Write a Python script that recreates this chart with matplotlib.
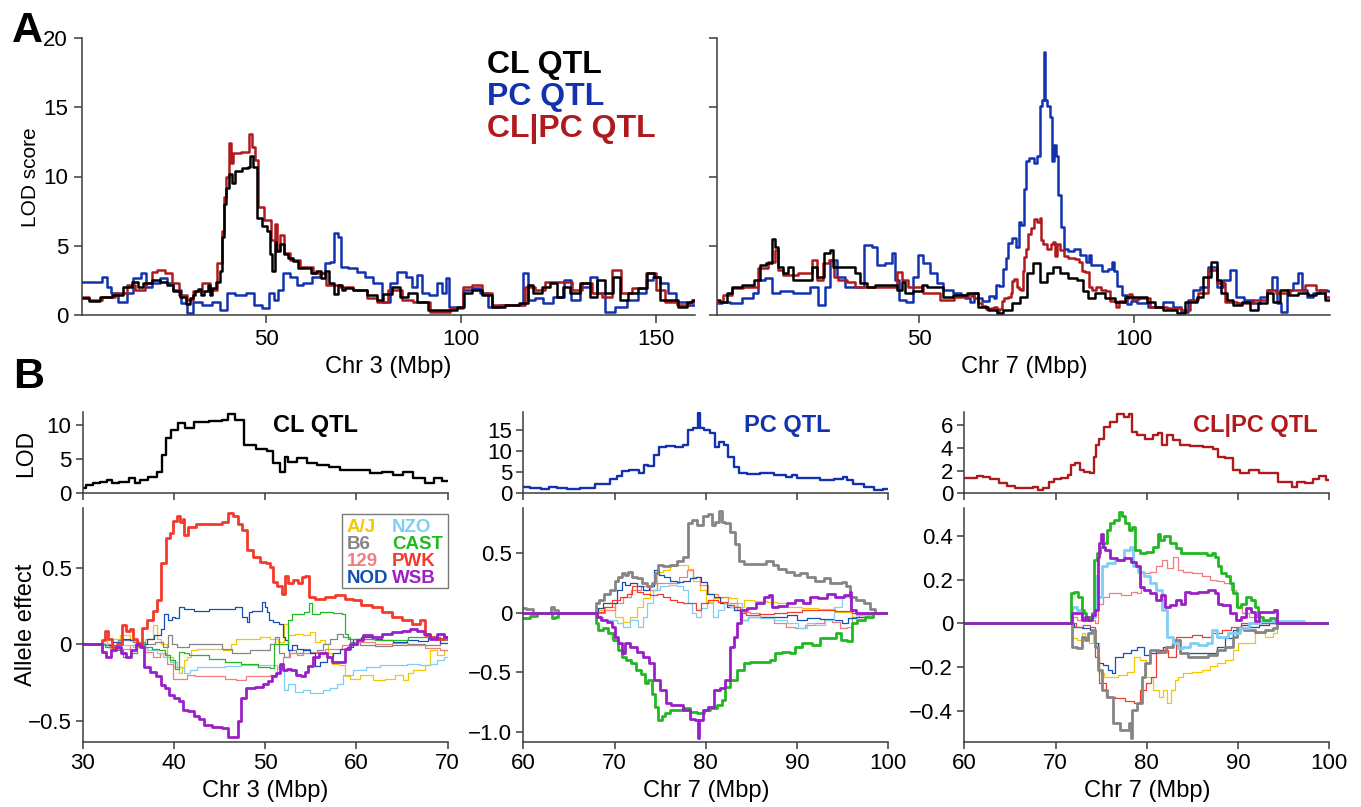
import matplotlib
matplotlib.use("Agg")
import matplotlib.pyplot as plt
from matplotlib.patches import Rectangle

plt.rcParams['font.family'] = ['Liberation Sans', 'DejaVu Sans']

# ---------------- DATA ----------------
# Panel A, chromosome 3 LOD profiles: (Mbp, LOD)
chr3_cl = [(2.8,1.2),(6.6,1.0),(8.3,1.3),(12.5,1.45),(14.3,2.05),(16.8,2.4),(17.7,2.05),(19.4,2.3),(21.9,2.5),
           (23.7,2.4),(25.4,2.2),(27.1,1.7),(28.8,1.3),(30.0,0.8),(30.8,1.2),(31.5,1.45),(32.3,1.7),(33.0,1.9),
           (33.5,1.45),(34.5,1.7),(35.6,2.17),(35.9,1.45),(36.6,1.94),(37.7,2.4),(38.5,3.15),(38.8,5.6),(39.4,8.0),
           (39.9,9.2),(41.0,10.2),(41.4,9.5),(42.9,10.4),(44.7,10.6),(45.8,10.7),(46.1,11.5),(47.2,10.7),(48.2,7.0),
           (49.8,6.4),(50.5,6.1),(51.3,4.4),(52.0,3.15),(52.4,5.3),(52.7,4.6),(54.2,5.1),(54.9,4.4),(56.4,4.1),
           (57.5,3.9),(58.9,3.4),(60.8,3.4),(62.2,3.0),(63.3,3.15),(64.8,2.66),(65.5,3.15),(67.0,2.3),(68.1,1.55),
           (68.8,2.17),(70.0,1.8),(70.7,1.93),(74.1,1.8),(77.5,1.45),(79.2,1.08),(81.0,1.5),(83.5,2.05),(85.2,1.3),
           (87.7,1.57),(89.5,0.96),(93.7,0.36),(98.0,0.36),(100.1,0.6),(101.4,1.57),(104.0,1.8),(106.6,1.45),
           (109.1,0.6),(113.4,0.72),(116.4,0.84),(117.7,2.2),(119.4,1.57),(121.9,2.05),(123.6,2.3),(125.4,1.3),
           (127.1,2.05),(128.8,1.57),(132.2,2.3),(133.9,1.3),(135.6,2.5),(138.2,1.57),(139.9,2.77),(141.6,1.08),
           (144.2,1.57),(146.7,1.93),(148.9,3.0),(150.1,2.77),(151.9,1.08),(154.4,1.08),(157.0,0.6),(158.7,0.96),
           (160.0,1.08)]
chr3_pc = [(2.8,2.35),(7.4,2.4),(8.7,2.77),(9.5,2.05),(10.8,1.57),(13.4,0.96),(15.1,1.57),(16.8,2.65),(19.0,3.0),
           (19.6,2.05),(21.9,2.3),(23.7,2.65),(25.4,2.3),(27.1,1.8),(29.2,0.84),(30.5,0.12),(32.2,0.96),(34.8,0.72),
           (37.3,0.96),(39.0,0.36),(40.8,1.57),(43.3,1.45),(46.3,1.57),(47.6,0.72),(50.2,0.48),(51.4,1.57),(52.7,1.08),
           (53.6,1.8),(55.3,3.0),(57.0,2.77),(58.7,2.2),(60.4,2.3),(63.0,2.77),(64.7,3.0),(65.5,3.73),(67.2,3.85),
           (67.9,5.9),(68.8,5.66),(69.8,3.5),(72.4,3.37),(74.1,3.13),(76.6,2.77),(78.4,2.3),(80.9,0.96),(82.6,2.3),
           (84.8,3.13),(86.9,2.77),(87.7,2.05),(89.5,2.9),(90.7,1.57),(92.9,1.45),(94.6,2.3),(95.4,1.57),(96.7,2.65),
           (97.1,0.6),(99.7,0.6),(101.4,1.8),(104.0,1.93),(105.7,1.57),(108.3,0.6),(111.7,0.72),(115.1,0.72),
           (116.8,3.0),(117.7,1.08),(120.2,1.2),(121.9,0.84),(125.4,1.3),(127.5,2.5),(128.8,1.08),(132.2,2.05),
           (133.9,2.77),(135.6,1.57),(138.2,0.24),(140.7,0.6),(144.2,1.08),(146.7,1.57),(148.4,2.5),(150.1,2.77),
           (151.9,2.3),(154.4,1.57),(156.1,0.96),(160.0,0.72)]
chr3_clpc = [(2.8,1.3),(6.6,1.08),(9.1,1.3),(13.4,1.6),(15.1,2.2),(17.7,1.8),(20.2,2.3),(21.5,3.13),(22.8,3.25),
             (25.4,3.0),(26.6,2.3),(28.8,1.45),(30.5,1.08),(32.2,1.7),(34.8,2.3),(36.5,1.8),(38.2,3.73),(39.0,6.1),
             (39.6,8.5),(40.1,10.0),(40.8,12.4),(41.2,10.95),(42.0,11.67),(45.4,11.8),(46.1,13.1),(46.7,12.1),
             (47.6,11.2),(48.3,7.8),(50.6,6.86),(51.9,5.4),(52.5,6.6),(53.1,4.7),(54.0,5.8),(55.3,4.45),(57.0,3.97),
             (60.4,3.5),(63.8,3.0),(67.2,2.2),(70.7,2.05),(74.1,1.8),(77.5,1.2),(79.2,0.96),(83.5,1.8),(86.0,1.08),
             (89.5,0.96),(94.6,0.24),(99.7,0.48),(101.4,2.05),(104.0,2.2),(106.6,1.57),(109.1,0.72),(115.1,0.72),
             (117.7,2.05),(120.2,1.8),(122.8,2.4),(127.1,2.4),(129.6,1.8),(132.2,2.3),(134.8,1.57),(137.3,1.3),
             (140.3,3.25),(142.0,1.57),(145.9,1.93),(148.9,3.0),(151.0,1.8),(153.6,0.96),(157.0,0.72),(160.0,0.96)]

# Panel A, chromosome 7 LOD profiles: (Mbp, LOD)
chr7_cl = [(3.0,1.08),(4.5,0.96),(6.0,1.57),(6.8,2.05),(10.7,2.2),(12.6,2.5),(13.4,3.6),(15.3,3.73),(16.3,5.5),
           (16.9,4.9),(17.7,3.5),(19.2,3.0),(20.0,3.5),(21.5,2.5),(24.6,2.5),(25.8,3.5),(26.9,2.77),(28.9,4.45),
           (29.7,4.7),(30.4,3.5),(34.7,3.5),(35.5,3.0),(37.0,2.3),(38.6,2.05),(40.9,2.2),(44.0,2.2),(45.6,1.8),
           (46.3,2.4),(47.1,1.57),(50.2,1.7),(51.0,2.2),(52.5,2.05),(54.9,2.05),(56.4,1.3),(59.5,1.45),(62.6,1.57),
           (64.9,0.6),(67.3,0.36),(68.8,0.12),(70.4,0.36),(72.7,0.84),(74.2,1.3),(75.8,3.0),(77.4,3.73),(78.9,2.4),
           (80.5,3.0),(82.0,3.5),(83.6,3.0),(85.9,2.65),(87.8,2.5),(88.6,1.7),(89.8,1.2),(92.1,1.57),(94.4,1.2),
           (96.7,0.96),(99.1,1.3),(101.4,1.3),(104.5,0.96),(105.3,0.6),(108.4,0.36),(111.5,0.12),(112.2,0.96),
           (113.8,0.96),(115.3,1.3),(116.9,2.77),(118.8,3.85),(119.6,2.5),(120.8,1.57),(122.3,1.08),(123.9,0.72),
           (126.2,0.96),(127.7,0.36),(130.1,0.84),(131.6,1.57),(133.2,0.96),(134.7,1.8),(137.0,1.45),(139.4,1.57),
           (141.7,1.45),(143.2,1.57),(145.6,1.08)]
chr7_pc = [(3.0,0.84),(5.2,0.96),(6.8,0.84),(10.7,1.2),(12.2,1.57),(13.0,2.5),(15.3,2.65),(16.1,1.57),(19.2,1.7),
           (22.3,1.57),(23.8,1.57),(25.4,2.05),(27.7,0.72),(28.5,2.05),(30.1,3.97),(31.6,2.77),(33.9,2.05),(36.3,2.05),
           (38.2,5.06),(39.7,4.9),(40.9,3.6),(43.2,3.73),(44.0,4.45),(44.8,2.5),(45.9,1.08),(47.9,0.96),(49.4,2.77),
           (50.2,4.33),(51.8,3.73),(53.3,3.0),(54.9,2.3),(56.4,1.8),(59.5,1.57),(60.0,1.43),(61.5,1.2),(62.4,0.95),
           (63.3,1.6),(64.0,1.2),(65.5,1.0),(67.0,1.35),(67.7,1.2),(68.0,2.2),(69.1,2.1),(69.9,3.3),(70.6,4.1),
           (71.0,5.2),(72.1,5.55),(73.2,4.9),(73.3,6.7),(74.1,6.5),(74.6,9.1),(75.2,11.1),(76.1,11.3),(77.2,10.95),
           (77.9,11.5),(78.3,15.1),(79.0,15.5),(79.2,19.0),(79.5,15.5),(80.1,15.1),(80.8,14.3),(81.2,11.1),(81.8,12.3),
           (82.1,11.5),(82.7,8.7),(83.4,6.35),(83.9,4.76),(85.2,4.6),(86.7,4.76),(88.2,4.36),(89.3,3.8),(89.6,4.36),
           (90.3,3.6),(91.8,3.6),(93.3,3.17),(94.7,3.3),(95.3,3.8),(95.6,3.17),(96.6,2.1),(98.0,1.43),(98.8,0.8),
           (100.0,1.03),(101.4,0.84),(105.3,0.6),(108.4,0.96),(109.9,0.6),(112.2,0.24),(113.0,1.08),(114.6,1.8),
           (116.1,2.05),(118.4,3.5),(120.0,2.05),(121.5,2.5),(123.1,3.25),(124.3,1.3),(127.0,1.08),(128.5,0.84),
           (130.1,1.3),(131.6,1.8),(132.8,2.77),(133.9,0.84),(134.7,0.24),(136.3,1.8),(137.8,2.3),(138.6,3.0),
           (139.8,1.8),(140.9,1.3),(142.5,1.57),(144.0,1.8),(145.6,1.7)]
chr7_clpc = [(3.0,0.96),(6.0,1.45),(6.8,1.93),(11.5,2.05),(13.4,3.37),(16.1,3.85),(16.7,4.7),(17.7,3.25),(19.2,2.9),
             (24.6,3.0),(25.4,3.97),(26.9,2.5),(28.5,3.73),(29.7,3.97),(30.8,2.77),(31.6,2.5),(34.7,2.4),(35.5,2.05),
             (44.0,2.05),(45.6,3.13),(46.3,2.5),(48.7,2.05),(53.3,1.57),(56.4,1.08),(60.0,1.31),(61.0,1.31),
             (61.7,1.52),(62.4,1.4),(63.2,1.22),(64.3,0.87),(65.0,0.64),(66.1,0.43),(67.2,0.49),(67.9,0.58),
             (68.3,0.29),(69.0,0.43),(69.6,1.02),(70.1,1.22),(71.2,1.31),(71.6,1.6),(71.8,2.48),(72.5,2.63),
             (72.9,2.04),(73.4,1.9),(74.1,1.8),(74.3,3.2),(74.5,4.2),(75.1,4.8),(75.6,5.84),(76.3,6.28),(77.1,6.95),
             (78.0,6.72),(78.2,7.0),(78.5,5.4),(79.3,5.1),(80.3,4.8),(81.1,5.1),(81.4,5.26),(82.0,4.24),(82.4,5.1),
             (83.3,4.67),(84.0,4.24),(85.5,4.15),(86.9,4.03),(87.7,3.85),(88.0,3.2),(89.1,3.07),(89.8,2.04),
             (90.6,1.8),(91.7,2.04),(92.8,1.8),(94.2,1.75),(94.6,1.02),(95.7,1.02),(96.1,0.58),(96.8,1.02),
             (97.9,0.93),(98.6,1.22),(99.2,1.52),(100.0,1.17),(102.2,1.2),(105.3,0.6),(109.9,0.48),(112.2,0.36),
             (113.8,1.08),(116.1,1.57),(118.4,3.25),(120.0,2.3),(122.3,0.96),(125.4,0.84),(130.1,1.08),(131.6,1.8),
             (134.7,1.57),(137.8,1.8),(141.7,2.2),(143.2,1.8),(145.6,1.3)]

# Panel B, allele effects (Mbp, effect) -- CL QTL on Chr 3
b1_aj = [(30,0),(31.9,0),(33.4,0.037),(34.8,0.06),(35.6,0.026),(36.3,0.004),(37.4,0.037),(37.9,0.125),(38.3,0.037),
         (38.8,0.004),(39.6,-0.083),(40.3,-0.15),(40.7,-0.19),(41.0,-0.15),(41.2,-0.105),(41.6,-0.083),(42.1,-0.04),
         (42.9,-0.03),(44.7,-0.03),(46.1,-0.035),(46.5,0.004),(47.2,0.037),(48.7,0.037),(50.2,0.048),(50.9,0.037),
         (51.8,0.015),(52.4,0.136),(52.7,0.06),(53.8,0.07),(54.5,0.06),(55.3,0.08),(55.6,0.015),(56.4,0.026),
         (56.7,0.004),(57.1,-0.06),(57.5,-0.127),(58.6,-0.138),(58.9,-0.21),(59.7,-0.225),(61.1,-0.20),(62.6,-0.236),
         (63.7,-0.225),(64.8,-0.20),(65.5,-0.236),(65.9,-0.19),(66.6,-0.17),(67.3,-0.17),(67.7,-0.138),(68.4,-0.04),
         (69.2,-0.07),(70.0,-0.04)]
b1_b6 = [(30,0),(31.9,0),(33.0,-0.007),(34.8,0.026),(36.3,0.015),(37.4,0.004),(38.5,0.015),(39.2,-0.018),(39.6,0.06),
         (39.9,0.004),(40.8,-0.018),(41.4,-0.018),(41.9,0.004),(42.9,0.0),(44.7,0.004),(45.8,-0.03),(46.9,-0.06),
         (48.0,-0.06),(48.7,-0.04),(50.2,-0.04),(50.9,0.0),(51.3,0.048),(51.8,-0.06),(52.4,-0.083),(52.9,-0.04),
         (53.8,-0.06),(54.5,-0.03),(55.3,-0.06),(56.0,-0.04),(56.7,0.0),(57.5,0.037),(58.2,0.07),(58.9,0.048),
         (59.7,0.015),(61.1,-0.007),(62.9,-0.013),(64.8,-0.007),(66.6,0.004),(68.4,-0.007),(70.0,0.026)]
b1_129 = [(30,0),(31.9,0),(34.1,-0.028),(36.3,-0.007),(37.4,-0.05),(38.1,-0.083),(38.8,-0.06),(39.6,-0.127),
          (40.3,-0.225),(41.0,-0.225),(41.8,-0.20),(42.9,-0.21),(44.7,-0.21),(46.5,-0.225),(47.2,-0.236),(48.7,-0.21),
          (50.2,-0.21),(50.9,-0.20),(51.6,-0.15),(52.4,-0.083),(53.1,-0.06),(53.8,-0.07),(54.5,-0.06),(55.6,-0.05),
          (57.5,-0.03),(59.3,-0.007),(61.1,0.015),(62.9,0.004),(64.8,0.009),(66.6,-0.007),(68.4,-0.022),(70.0,-0.04)]
b1_nod = [(30,0),(31.9,0),(33.0,-0.007),(33.7,0.015),(34.8,0.037),(35.6,0.026),(36.6,0.0),(37.4,0.037),(38.3,0.06),
          (38.8,0.10),(39.0,0.20),(39.6,0.16),(39.9,0.18),(40.3,0.17),(40.8,0.245),(41.4,0.23),(42.9,0.22),(44.7,0.23),
          (46.1,0.23),(47.2,0.245),(47.8,0.18),(48.2,0.147),(48.3,0.21),(48.9,0.22),(49.4,0.22),(49.8,0.28),
          (50.2,0.245),(50.3,0.21),(50.5,0.16),(51.3,0.147),(51.8,0.136),(52.0,0.048),(52.4,0.026),(52.7,-0.04),
          (53.1,-0.007),(53.8,-0.03),(54.5,-0.04),(55.3,-0.06),(55.6,-0.14),(56.4,-0.116),(57.1,-0.083),(57.8,-0.06),
          (58.6,-0.03),(59.3,-0.018),(60.0,0.037),(61.1,0.048),(62.2,0.037),(63.3,0.026),(64.8,0.015),(66.2,0.03),
          (67.3,0.02),(68.4,0.048),(70.0,0.01)]
b1_nzo = [(30,0),(31.9,0),(33.4,-0.018),(34.8,-0.007),(36.3,-0.018),(37.7,-0.04),(38.5,-0.06),(39.2,-0.083),
          (39.9,-0.116),(40.7,-0.15),(41.4,-0.19),(42.1,-0.17),(42.9,-0.15),(44.7,-0.15),(46.5,-0.144),(48.3,-0.138),
          (50.2,-0.138),(50.9,-0.138),(51.6,-0.15),(52.0,-0.127),(52.2,-0.30),(52.7,-0.26),(53.8,-0.31),(54.5,-0.30),
          (55.3,-0.32),(56.0,-0.32),(56.7,-0.30),(57.5,-0.29),(58.2,-0.26),(58.9,-0.20),(60.4,-0.17),(61.8,-0.15),
          (63.3,-0.138),(64.8,-0.138),(66.2,-0.127),(67.7,-0.138),(68.4,-0.127),(69.2,-0.105),(70.0,-0.083)]
b1_cast = [(30,0),(31.9,0),(33.0,-0.018),(34.1,-0.04),(34.8,-0.083),(35.6,-0.06),(36.3,0.0),(37.2,-0.018),
           (37.9,-0.03),(38.8,-0.04),(39.2,-0.07),(39.9,-0.105),(40.3,-0.16),(40.8,-0.05),(41.4,-0.06),(41.9,-0.07),
           (42.9,-0.07),(44.7,-0.094),(46.5,-0.116),(48.3,-0.127),(50.2,-0.15),(50.9,-0.153),(51.1,0.004),(51.6,0.0),
           (52.4,0.0),(52.7,0.16),(53.1,0.20),(53.8,0.20),(54.7,0.21),(54.9,0.27),(55.3,0.20),(56.7,0.21),(58.2,0.205),
           (58.6,0.20),(58.9,0.07),(59.3,0.037),(61.1,0.037),(62.9,0.026),(64.8,0.03),(66.6,0.048),(68.4,0.048),
           (70.0,0.037)]
b1_pwk = [(30,0),(31.9,0),(32.3,0.026),(32.6,0.09),(33.0,0.037),(33.5,-0.018),(34.1,0.004),(34.6,0.125),(35.0,0.09),
          (35.4,0.10),(35.7,0.037),(36.3,-0.007),(36.8,0.11),(37.4,0.16),(37.9,0.22),(38.4,0.29),(38.8,0.53),
          (39.4,0.70),(39.8,0.73),(40.1,0.81),(40.5,0.84),(40.8,0.80),(41.1,0.825),(41.2,0.72),(41.9,0.77),(42.9,0.79),
          (44.7,0.79),(45.8,0.80),(46.1,0.86),(46.9,0.84),(47.2,0.79),(47.8,0.75),(48.2,0.62),(49.1,0.57),(49.8,0.54),
          (50.3,0.53),(50.7,0.51),(50.9,0.41),(51.6,0.38),(52.0,0.33),(52.4,0.45),(52.7,0.40),(53.3,0.42),(53.8,0.40),
          (54.2,0.44),(54.5,0.45),(55.0,0.31),(56.0,0.30),(57.1,0.31),(58.2,0.32),(59.3,0.30),(60.0,0.29),
          (61.1,0.256),(62.2,0.245),(63.3,0.21),(64.4,0.18),(65.5,0.16),(66.6,0.136),(67.3,0.16),(67.7,0.06),
          (68.4,0.048),(69.2,0.037),(70.0,0.048)]
b1_wsb = [(30,0),(31.9,0),(32.4,-0.05),(32.8,-0.083),(33.4,-0.04),(33.9,-0.018),(34.5,-0.06),(35.0,-0.083),
          (35.6,-0.04),(36.1,0.004),(36.5,-0.02),(37.0,-0.15),(37.7,-0.18),(38.3,-0.21),(38.8,-0.27),(39.2,-0.29),
          (39.8,-0.33),(40.3,-0.35),(40.8,-0.37),(41.2,-0.43),(41.9,-0.44),(42.5,-0.47),(43.0,-0.49),(43.6,-0.53),
          (44.7,-0.54),(45.8,-0.55),(46.1,-0.61),(46.9,-0.61),(47.1,-0.50),(47.6,-0.35),(48.3,-0.29),(49.4,-0.28),
          (50.2,-0.26),(50.5,-0.24),(50.9,-0.21),(51.4,-0.19),(51.8,-0.13),(52.2,-0.17),(52.5,-0.16),(53.1,-0.17),
          (53.6,-0.20),(54.2,-0.21),(54.5,-0.18),(54.9,-0.14),(55.5,-0.083),(56.4,-0.06),(57.1,-0.083),(57.5,-0.116),
          (58.6,-0.116),(58.9,-0.03),(59.7,0.004),(60.4,0.026),(61.1,0.06),(62.2,0.048),(63.3,0.07),(64.4,0.08),
          (65.5,0.09),(66.2,0.10),(67.0,0.09),(67.7,0.07),(68.4,0.037),(69.2,0.07),(70.0,0.048)]

# PC QTL on Chr 7
b2_aj = [(60,0),(67.9,0),(68.4,0.022),(69.5,0.05),(70.6,-0.034),(71.3,-0.075),(72.1,-0.034),(72.8,0.05),(73.5,0.12),
         (74.3,0.19),(75.0,0.34),(75.7,0.36),(76.5,0.39),(77.2,0.40),(77.9,0.40),(78.3,0.37),(79.0,0.27),(79.7,0.19),
         (80.3,0.09),(81.2,0.12),(82.3,0.134),(83.0,0.12),(83.8,0.05),(84.5,0.106),(86.0,0.098),(87.4,0.09),
         (88.2,0.078),(89.6,0.05),(91.4,0.036),(93.3,0.028),(95.1,0.008),(96.9,-0.034),(98.0,-0.02),(98.8,0.0),(100,0.0)]
b2_b6 = [(60,0.036),(60.7,0.028),(61.5,0.0),(62.9,0.0),(63.1,0.045),(63.7,0.022),(63.8,0.0),(67.9,0.0),(68.0,0.078),
         (68.6,0.106),(69.1,0.16),(69.9,0.19),(70.1,0.27),(70.6,0.30),(71.0,0.33),(71.3,0.32),(71.7,0.34),(72.2,0.30),
         (72.8,0.29),(73.3,0.25),(73.9,0.22),(74.3,0.25),(74.6,0.33),(75.0,0.40),(75.7,0.39),(76.5,0.40),(77.2,0.43),
         (77.9,0.47),(78.3,0.75),(78.6,0.78),(79.4,0.74),(79.9,0.81),(80.5,0.83),(80.8,0.74),(81.2,0.76),(81.6,0.85),
         (81.9,0.76),(82.3,0.75),(82.9,0.68),(83.4,0.58),(83.8,0.43),(84.5,0.41),(86.0,0.41),(87.1,0.43),(87.6,0.40),
         (88.2,0.37),(89.3,0.34),(90.0,0.32),(90.7,0.33),(91.4,0.30),(92.5,0.27),(93.3,0.29),(94.0,0.25),(94.7,0.25),
         (95.1,0.26),(95.6,0.22),(96.0,0.134),(96.9,0.106),(97.7,0.078),(98.2,0.028),(98.8,0.0),(100,0.0)]
b2_129 = [(60,0),(67.9,0),(68.4,-0.006),(69.5,0.022),(70.6,0.078),(71.3,0.134),(72.4,0.19),(73.5,0.22),(74.3,0.19),
          (75.0,0.25),(76.5,0.25),(77.6,0.30),(78.3,0.36),(79.0,0.30),(79.7,0.23),(80.8,0.16),(81.9,0.134),(83.0,0.078),
          (83.8,0.022),(84.5,0.008),(85.2,-0.006),(86.7,-0.034),(88.2,-0.09),(89.3,-0.12),(90.3,-0.13),(91.4,-0.104),
          (92.5,-0.09),(93.3,-0.06),(94.4,-0.075),(95.1,-0.13),(95.8,-0.12),(96.2,-0.034),(97.3,-0.011),(98.8,0.0),
          (100,0.0)]
b2_nod = [(60,0),(67.9,0),(68.4,0.036),(69.1,0.078),(69.9,0.078),(70.6,0.19),(71.0,0.26),(71.3,0.23),(72.1,0.25),
          (72.8,0.22),(73.5,0.19),(74.1,0.22),(74.6,0.36),(75.2,0.32),(75.7,0.30),(76.5,0.27),(77.2,0.26),(77.9,0.27),
          (78.6,0.29),(79.2,0.30),(79.7,0.26),(80.5,0.16),(81.2,0.134),(81.9,0.078),(82.7,0.05),(83.4,0.022),
          (84.1,-0.06),(85.2,-0.034),(86.7,-0.04),(88.2,-0.034),(89.6,-0.02),(90.3,-0.06),(91.8,-0.048),(93.3,-0.056),
          (94.7,-0.06),(95.1,-0.09),(96.0,-0.048),(96.9,-0.034),(98.4,-0.006),(100,0.0)]
b2_nzo = [(60,0),(67.9,0),(68.4,-0.034),(69.1,-0.06),(69.9,-0.06),(70.6,-0.09),(71.3,-0.12),(72.1,-0.06),(73.0,-0.12),
          (73.3,-0.034),(73.9,0.078),(74.6,0.19),(75.4,0.22),(76.5,0.23),(77.2,0.22),(77.7,0.19),(78.3,0.078),
          (78.6,-0.006),(79.2,-0.034),(79.7,0.036),(80.5,0.078),(81.0,-0.034),(81.6,0.022),(82.3,0.078),(83.0,0.05),
          (83.8,0.078),(84.1,-0.06),(85.2,-0.034),(86.7,-0.048),(88.2,-0.06),(89.6,-0.09),(90.7,-0.13),(91.4,-0.09),
          (92.5,-0.104),(93.6,-0.06),(94.4,0.05),(95.5,0.134),(96.0,0.022),(96.9,-0.02),(98.4,-0.006),(100,0.0)]
b2_cast = [(60,-0.042),(61.5,-0.028),(61.6,0.0),(63.0,0.0),(63.2,-0.048),(63.8,-0.034),(63.9,0.0),(67.9,0.0),
           (68.0,-0.09),(68.4,-0.145),(69.1,-0.13),(69.5,-0.17),(70.2,-0.23),(70.6,-0.31),(71.0,-0.37),(71.5,-0.40),
           (72.1,-0.425),(72.6,-0.48),(73.2,-0.51),(73.5,-0.59),(73.9,-0.565),(74.3,-0.68),(74.6,-0.79),(75.0,-0.90),
           (75.4,-0.87),(75.7,-0.845),(76.5,-0.82),(77.2,-0.82),(77.9,-0.80),(78.6,-0.83),(79.4,-0.845),(80.1,-0.82),
           (80.8,-0.80),(81.6,-0.775),(81.9,-0.73),(82.3,-0.62),(83.0,-0.565),(83.8,-0.48),(84.5,-0.425),(85.2,-0.41),
           (86.7,-0.41),(87.4,-0.40),(87.8,-0.34),(88.9,-0.33),(89.6,-0.34),(90.0,-0.285),(91.1,-0.257),(92.2,-0.27),
           (92.9,-0.215),(94.0,-0.215),(94.6,-0.17),(95.1,-0.23),(95.8,-0.24),(96.2,-0.09),(96.9,-0.06),(98.0,-0.034),
           (98.6,0.0),(100,0.0)]
b2_pwk = [(60,0),(67.9,0),(68.4,0.008),(69.3,0.05),(70.2,0.106),(71.0,0.134),(71.7,0.16),(72.2,0.22),(72.8,0.176),
          (73.5,0.16),(74.3,0.148),(75.0,0.16),(75.7,0.134),(76.5,0.106),(77.2,0.09),(77.9,0.078),(78.6,0.078),
          (79.2,0.022),(79.7,0.078),(80.8,0.106),(81.9,0.09),(82.7,0.064),(83.4,0.05),(84.0,-0.006),(84.9,-0.02),
          (86.7,-0.011),(88.2,-0.006),(89.6,0.008),(91.4,0.022),(93.3,0.022),(95.1,0.017),(96.9,0.0),(100,0.0)]
b2_wsb = [(60,0),(67.9,0),(68.2,-0.034),(68.8,-0.06),(69.5,-0.075),(69.9,-0.12),(70.2,-0.20),(70.6,-0.257),
          (71.0,-0.34),(71.3,-0.257),(72.1,-0.285),(72.8,-0.33),(73.5,-0.37),(74.1,-0.425),(74.6,-0.565),(75.4,-0.65),
          (75.9,-0.76),(76.5,-0.775),(77.2,-0.775),(77.9,-0.82),(78.6,-0.89),(79.0,-0.90),(79.2,-1.05),(79.4,-0.90),
          (79.9,-0.82),(80.5,-0.79),(81.2,-0.65),(81.9,-0.635),(82.3,-0.565),(82.9,-0.285),(83.2,-0.20),(83.6,-0.09),
          (84.1,0.022),(84.9,0.036),(86.0,0.078),(86.7,0.134),(87.2,0.148),(87.4,0.05),(88.5,0.056),(89.3,0.078),
          (90.3,0.106),(91.1,0.078),(91.8,0.134),(92.9,0.12),(93.6,0.16),(94.7,0.134),(95.6,0.148),(95.9,0.176),
          (96.0,0.022),(96.9,0.0),(100,0.0)]

# CL|PC QTL on Chr 7
b3_aj = [(60,0),(71.8,0),(71.9,-0.069),(72.7,-0.076),(73.0,-0.046),(73.4,-0.061),(74.0,-0.092),(74.1,-0.03),
         (74.5,-0.092),(75.1,-0.229),(75.6,-0.244),(76.3,-0.244),(77.4,-0.236),(78.2,-0.221),(78.9,-0.153),
         (79.6,-0.168),(80.3,-0.244),(81.1,-0.305),(81.6,-0.336),(82.0,-0.305),(82.4,-0.366),(82.9,-0.305),
         (83.3,-0.259),(83.6,-0.244),(84.4,-0.229),(85.5,-0.221),(86.6,-0.214),(87.3,-0.198),(88.0,-0.183),
         (89.1,-0.168),(89.8,-0.122),(90.2,-0.092),(91.3,-0.092),(92.4,-0.046),(93.5,-0.061),(94.2,-0.046),(94.4,0.0),
         (100,0.0)]
b3_b6 = [(60,0),(71.8,0),(71.9,-0.107),(72.7,-0.114),(73.0,-0.061),(73.4,-0.076),(73.8,-0.046),(74.1,-0.03),
         (74.5,-0.107),(74.9,-0.214),(75.2,-0.305),(76.0,-0.336),(76.7,-0.458),(77.4,-0.49),(78.0,-0.49),(78.2,-0.458),
         (78.3,-0.526),(78.5,-0.397),(79.3,-0.366),(79.6,-0.244),(80.0,-0.183),(80.7,-0.122),(81.8,-0.13),
         (82.5,-0.107),(83.3,-0.076),(84.0,-0.137),(85.1,-0.153),(86.2,-0.153),(87.3,-0.145),(88.0,-0.122),
         (89.1,-0.107),(89.8,-0.061),(90.0,-0.023),(91.3,-0.03),(92.4,-0.038),(93.5,-0.03),(94.2,-0.023),(94.4,0.0),
         (100,0.0)]
b3_129 = [(60,0),(71.8,0),(71.9,0.03),(72.7,0.015),(74.1,0.015),(74.5,0.0),(74.9,0.09),(75.4,0.122),(76.3,0.137),
          (78.0,0.13),(78.5,0.145),(79.3,0.137),(79.4,0.236),(80.0,0.229),(80.7,0.236),(81.4,0.26),(82.0,0.29),
          (82.5,0.252),(83.3,0.305),(83.6,0.244),(84.4,0.236),(85.5,0.229),(86.6,0.214),(87.3,0.198),(88.0,0.191),
          (88.9,0.183),(89.5,0.153),(90.0,0.076),(90.8,0.046),(91.7,0.03),(92.8,0.0),(100,0.0)]
b3_nod = [(60,0),(71.8,0),(72.3,-0.015),(73.4,-0.023),(74.1,-0.03),(74.5,-0.092),(74.9,-0.183),(75.4,-0.191),
          (76.0,-0.214),(76.3,-0.229),(76.7,-0.153),(78.0,-0.137),(78.5,-0.122),(79.3,-0.107),(80.0,-0.145),
          (80.7,-0.137),(81.4,-0.122),(82.2,-0.107),(83.3,-0.092),(84.0,-0.137),(85.1,-0.137),(86.2,-0.137),
          (87.3,-0.137),(88.0,-0.107),(89.1,-0.069),(89.8,-0.03),(90.9,-0.008),(91.7,-0.015),(92.8,-0.008),
          (93.9,0.0),(100,0.0)]
b3_nzo = [(60,0),(71.8,0),(71.9,0.076),(72.7,0.061),(73.0,0.023),(73.4,0.015),(74.1,0.03),(74.5,0.214),(74.9,0.122),
          (75.2,0.26),(76.0,0.275),(77.1,0.29),(78.0,0.335),(78.3,0.35),(78.7,0.26),(79.3,0.236),(80.0,0.214),
          (80.7,0.183),(81.4,0.153),(82.0,0.061),(82.5,-0.061),(83.3,-0.092),(83.6,-0.114),(84.4,-0.107),(85.1,-0.092),
          (86.2,-0.099),(86.9,-0.092),(87.3,-0.03),(88.0,-0.061),(89.8,-0.046),(90.6,-0.023),(91.7,0.0),(93.1,0.008),
          (94.4,0.008),(100,0.0)]
b3_cast = [(60,0),(71.6,0),(71.8,0.137),(72.3,0.145),(72.7,0.122),(73.0,0.061),(73.2,0.046),(73.4,0.015),(73.8,0.03),
           (74.1,0.046),(74.3,0.29),(74.7,0.32),(75.1,0.35),(75.4,0.366),(75.8,0.427),(76.1,0.458),(76.7,0.473),
           (77.1,0.51),(77.4,0.49),(77.8,0.458),(78.2,0.427),(78.5,0.44),(78.9,0.335),(79.6,0.32),(80.3,0.328),
           (81.1,0.35),(81.3,0.41),(81.6,0.38),(82.2,0.40),(82.9,0.366),(83.6,0.343),(84.0,0.32),(85.1,0.32),
           (86.2,0.32),(86.9,0.313),(87.3,0.32),(87.7,0.305),(87.8,0.26),(88.4,0.23),(88.9,0.214),(89.3,0.183),
           (89.7,0.137),(90.0,0.076),(90.6,0.09),(91.1,0.122),(91.7,0.107),(92.0,0.076),(92.4,0.03),(93.1,0.015),
           (93.9,0.023),(94.4,0.0),(100,0.0)]
b3_pwk = [(60,0),(71.8,0),(72.7,-0.015),(73.4,-0.008),(74.1,-0.015),(74.5,-0.153),(75.1,-0.275),(76.0,-0.336),
          (77.1,-0.343),(78.2,-0.358),(78.9,-0.366),(79.6,-0.305),(80.3,-0.275),(80.7,-0.244),(81.3,-0.137),
          (81.8,-0.122),(82.9,-0.153),(83.5,-0.061),(84.4,-0.061),(85.5,-0.053),(86.6,-0.061),(87.7,-0.046),
          (88.7,-0.03),(89.8,-0.015),(90.9,0.0),(100,0.0)]
b3_wsb = [(60,0),(71.8,0),(71.9,0.046),(72.7,0.046),(73.0,0.015),(73.4,0.03),(73.8,0.015),(74.1,0.038),(74.5,0.061),
          (74.7,0.305),(74.9,0.366),(75.1,0.41),(75.2,0.35),(75.6,0.335),(76.3,0.297),(77.1,0.29),(78.0,0.297),
          (78.5,0.282),(79.1,0.26),(79.4,0.168),(80.0,0.153),(80.7,0.137),(81.3,0.107),(81.8,0.13),(82.2,0.076),
          (82.9,0.084),(83.5,0.107),(84.0,0.09),(84.4,0.145),(85.1,0.137),(86.2,0.145),(87.3,0.153),(87.7,0.137),
          (87.8,0.09),(88.7,0.084),(89.5,0.046),(90.0,0.015),(90.6,0.03),(91.1,0.069),(91.7,0.053),(92.0,0.008),
          (92.6,0.053),(93.7,0.053),(94.2,0.061),(94.4,0.0),(100,0.0)]

strains = ["A/J", "B6", "129", "NOD", "NZO", "CAST", "PWK", "WSB"]
strain_colors = ["#f2c800", "#858585", "#ef7f7f", "#1450b4", "#7fcff2", "#22b822", "#f43a2a", "#9a1fc8"]
qtl_names = ["CL QTL", "PC QTL", "CL|PC QTL"]
qtl_colors = ["#000000", "#1232b0", "#b01a1c"]

# ---------------- PLOT ----------------
W, H = 1361, 807
fig = plt.figure(figsize=(W / 100, H / 100), dpi=100)
SP = "#3c3c3c"
DS = "steps-mid"


def add_ax(x0, y0, x1, y1):
    return fig.add_axes([x0 / W, 1 - y1 / H, (x1 - x0) / W, (y1 - y0) / H])


def ftext(x, y, s, **kw):
    fig.text(x / W, 1 - y / H, s, **kw)


def style(ax, tlen, pad, fs):
    for s in ("top", "right"):
        ax.spines[s].set_visible(False)
    for s in ("left", "bottom"):
        ax.spines[s].set_color(SP)
        ax.spines[s].set_linewidth(1.1)
    ax.tick_params(direction="out", length=tlen, width=1.1, color=SP, pad=pad,
                   labelsize=fs, labelcolor="black")
    ax.set_facecolor("none")


def xy(pairs):
    return [p[0] for p in pairs], [p[1] for p in pairs]


# Panel A
chr_sets = [(chr3_cl, chr3_pc, chr3_clpc, (2.8, 160.0), [50, 100, 150], 82, 695, "Chr 3 (Mbp)", 388),
            (chr7_cl, chr7_pc, chr7_clpc, (3.0, 145.6), [50, 100], 717, 1330, "Chr 7 (Mbp)", 1024)]
for i, (cl, pc, clpc, xl, xt, x0, x1, lab, labx) in enumerate(chr_sets):
    ax = add_ax(x0, 38, x1, 315)
    for data, c in ((pc, qtl_colors[1]), (clpc, qtl_colors[2]), (cl, qtl_colors[0])):
        xs, ys = xy(data)
        ax.plot(xs, ys, color=c, lw=1.8, drawstyle=DS)
    ax.set_xlim(*xl)
    ax.set_ylim(0, 20)
    ax.set_xticks(xt)
    ax.set_yticks([0, 5, 10, 15, 20])
    style(ax, 6, 4, 16)
    if i == 1:
        ax.tick_params(labelleft=False)
    ftext(labx, 367, lab, fontsize=17, ha="center", va="center")

ftext(30, 177, "LOD score", fontsize=15, rotation=90, ha="center", va="center")
ftext(12, 42, "A", fontsize=31, fontweight="bold", ha="left", va="baseline")
for name, c, yb in zip(qtl_names, qtl_colors, (73, 105, 137)):
    ftext(487, yb, name, fontsize=23, fontweight="bold", color=c, ha="left", va="baseline")

# Panel B
ftext(13, 388, "B", fontsize=31, fontweight="bold", ha="left", va="baseline")
b_sets = [
    (chr3_cl, qtl_colors[0], (0, 11.9), [0, 5, 10], (30, 70),
     [b1_aj, b1_b6, b1_129, b1_nod, b1_nzo, b1_cast, b1_pwk, b1_wsb], {"PWK", "WSB"},
     (-0.643, 0.892), [-0.5, 0, 0.5], ["\u22120.5", "0", "0.5"], "Chr 3 (Mbp)", 82.7, 273),
    (chr7_pc, qtl_colors[1], (0, 19.4), [0, 5, 10, 15], (60, 100),
     [b2_aj, b2_b6, b2_129, b2_nod, b2_nzo, b2_cast, b2_pwk, b2_wsb], {"B6", "CAST", "WSB"},
     (-1.087, 0.876), [-1.0, -0.5, 0, 0.5], ["\u22121.0", "\u22120.5", "0", "0.5"], "Chr 7 (Mbp)", 523.3, 744),
    (chr7_clpc, qtl_colors[2], (0, 7.16), [0, 2, 4, 6], (60, 100),
     [b3_aj, b3_b6, b3_129, b3_nod, b3_nzo, b3_cast, b3_pwk, b3_wsb], {"B6", "CAST", "WSB", "NZO"},
     (-0.545, 0.526), [-0.4, -0.2, 0, 0.2, 0.4], ["\u22120.4", "\u22120.2", "0", "0.2", "0.4"],
     "Chr 7 (Mbp)", 964.3, 1193),
]
for k, (lod, lc, lyl, lyt, xl, effs, thick, eyl, eyt, eytl, xlab, x0, tx) in enumerate(b_sets):
    x1 = x0 + 365
    axl = add_ax(x0, 411.7, x1, 493.3)
    xs, ys = xy(lod)
    axl.plot(xs, ys, color=lc, lw=1.7, drawstyle=DS)
    axl.set_xlim(*xl)
    axl.set_ylim(*lyl)
    axl.set_yticks(lyt)
    axl.set_xticks(range(xl[0], xl[1] + 1, 10))
    style(axl, 5, 3, 16)
    axl.tick_params(labelbottom=False)
    ftext(tx, 432, qtl_names[k], fontsize=17, fontweight="bold", color=lc, ha="left", va="baseline")

    axe = add_ax(x0, 508.3, x1, 742.3)
    order = [j for j in range(8) if strains[j] not in thick] + [j for j in range(8) if strains[j] in thick]
    for j in order:
        xs, ys = xy(effs[j])
        w = 2.0 if strains[j] in thick else 0.9
        axe.plot(xs, ys, color=strain_colors[j], lw=w, drawstyle=DS)
    axe.set_xlim(*xl)
    axe.set_ylim(*eyl)
    axe.set_yticks(eyt)
    axe.set_yticklabels(eytl)
    axe.set_xticks(range(xl[0], xl[1] + 1, 10))
    style(axe, 5, 3, 16)
    ftext(x0 + 182.5, 791, xlab, fontsize=17, ha="center", va="center")

ftext(26, 453, "LOD", fontsize=16.5, rotation=90, ha="center", va="center")
ftext(26, 625, "Allele effect", fontsize=17, rotation=90, ha="center", va="center")

# strain legend box in first allele-effect panel
fig.add_artist(Rectangle((342 / W, 1 - 588 / H), 106 / W, 74 / H, transform=fig.transFigure,
                         facecolor="white", edgecolor="#7a7a7a", lw=1.0, zorder=5))
for j, s in enumerate(strains):
    col, row = divmod(j, 4)
    ftext(347 + col * 45, 532 + row * 17, s, fontsize=13.5, fontweight="bold", color=strain_colors[j],
          ha="left", va="baseline", zorder=6)

fig.savefig("out.png", dpi=100)
